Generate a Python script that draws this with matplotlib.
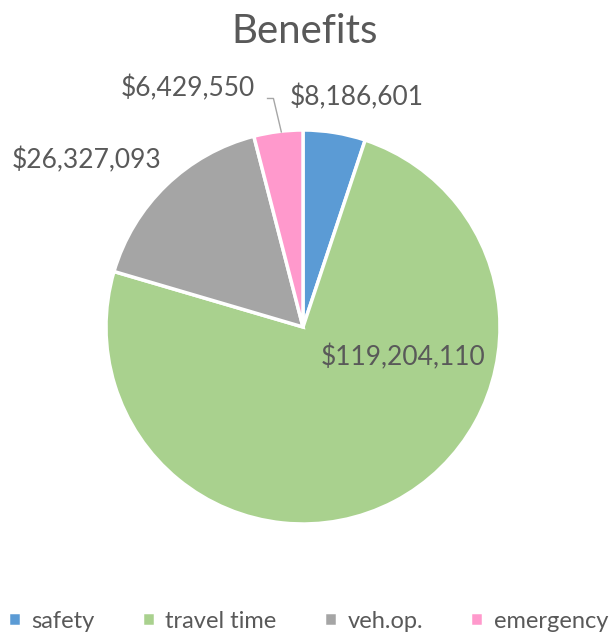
import numpy as np
import matplotlib.pyplot as plt

categories = ['safety', 'travel time', 'veh.op.', 'emergency']
values = [8186601, 119204110, 26327093, 6429550]
colors = ['#5B9BD5', '#A9D18E', '#A5A5A5', '#FF99CC']

plt.rcParams['font.family'] = ['Lato', 'DejaVu Sans']
txt = '#595959'

fig = plt.figure(figsize=(6.12, 6.35), dpi=100)
# pie axes: center (303, 327) px, radius 197 px
r = 197
ax = fig.add_axes([(303 - r) / 612, (635 - 327 - r) / 635, 2 * r / 612, 2 * r / 635])
wedges, _ = ax.pie(values, colors=colors, startangle=90, counterclock=False,
                   radius=1, wedgeprops=dict(edgecolor='white', linewidth=2.5))
ax.set_xlim(-1, 1)
ax.set_ylim(-1, 1)
ax.set_aspect('equal')
ax.axis('off')

labels = [r'\$' + format(v, ',') for v in values]
fs = 19
# label positions (data coords)
ax.text(-0.07, 1.165, labels[0], ha='left', va='center', fontsize=fs, color=txt)
ax.text(0.51, -0.155, labels[1], ha='center', va='center', fontsize=fs, color=txt)
ax.text(-1.10, 0.848, labels[2], ha='center', va='center', fontsize=fs, color=txt)
ax.text(-0.585, 1.21, labels[3], ha='center', va='center', fontsize=fs, color=txt)
# leader line for emergency label
ax.plot([-0.18, -0.15, -0.11], [1.16, 1.16, 0.99], color='#A6A6A6', lw=1, clip_on=False)

fig.text(0.497, 0.95, 'Benefits', ha='center', va='center', fontsize=29, color=txt)

fig.legend(wedges, categories, loc='center', bbox_to_anchor=(0.503, 0.022), ncol=4,
           frameon=False, fontsize=17, labelcolor=txt, handlelength=0.55, handleheight=0.55,
           handletextpad=0.45, columnspacing=2.0)

plt.savefig('out.png')
